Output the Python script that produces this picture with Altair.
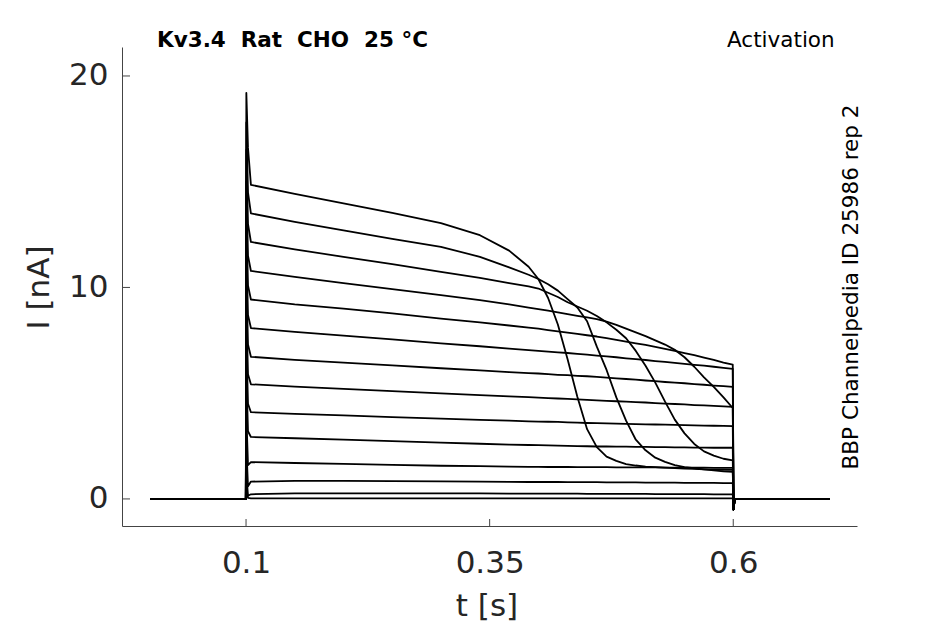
import altair as alt
import pandas as pd

# time grid [s]
t_s = [0.002, 0.0998, 0.1003, 0.102, 0.105, 0.15, 0.2, 0.25, 0.3, 0.34, 0.37, 0.39,
       0.40, 0.41, 0.42, 0.43, 0.44, 0.45, 0.46, 0.47, 0.48, 0.49, 0.50, 0.51, 0.52,
       0.53, 0.54, 0.55, 0.56, 0.57, 0.58, 0.59, 0.5995, 0.6003, 0.6015, 0.699]

# currents [nA] per sweep
sweep_01 = [0, 0, 19.2, 16.6, 14.85, 14.42, 13.98, 13.53, 13.04, 12.47, 11.74, 10.98, 10.4, 9.5,
            8.25, 6.6, 4.83, 3.3, 2.45, 2.0, 1.8, 1.65, 1.58, 1.53, 1.5, 1.48, 1.46, 1.44,
            1.42, 1.4, 1.39, 1.38, 1.37, -0.5, 0, 0]
sweep_02 = [0, 0, 17.8, 14.5, 13.5, 13.1, 12.7, 12.3, 11.92, 11.45, 10.95, 10.6, 10.4, 10.15,
            9.85, 9.45, 9.05, 8.4, 7.2, 6.1, 4.8, 3.7, 2.8, 2.3, 1.95, 1.75, 1.6, 1.5, 1.45,
            1.4, 1.35, 1.3, 1.28, -0.5, 0, 0]
sweep_03 = [0, 0, 16.5, 13.0, 12.15, 11.8, 11.45, 11.1, 10.74, 10.45, 10.2, 10.05, 9.95, 9.75,
            9.55, 9.3, 9.1, 8.9, 8.65, 8.35, 8.0, 7.6, 7.0, 6.3, 5.5, 4.6, 3.75, 3.1, 2.6,
            2.25, 2.05, 1.9, 1.82, -0.5, 0, 0]
sweep_04 = [0, 0, 15.0, 11.5, 10.78, 10.5, 10.2, 9.92, 9.64, 9.4, 9.2, 9.05, 8.98, 8.9, 8.82,
            8.74, 8.66, 8.58, 8.5, 8.38, 8.23, 8.05, 7.88, 7.7, 7.5, 7.3, 7.05, 6.7, 6.25,
            5.75, 5.3, 4.8, 4.3, -0.5, 0, 0]
sweep_05 = [0, 0, 13.5, 10.1, 9.43, 9.2, 9.0, 8.77, 8.53, 8.35, 8.2, 8.1, 8.05, 7.98, 7.92,
            7.86, 7.8, 7.74, 7.68, 7.6, 7.52, 7.44, 7.36, 7.28, 7.19, 7.1, 7.0, 6.9, 6.8,
            6.68, 6.57, 6.45, 6.35, -0.5, 0, 0]
sweep_06 = [0, 0, 12.0, 8.7, 8.08, 7.9, 7.72, 7.54, 7.36, 7.22, 7.11, 7.04, 7.0, 6.97, 6.93,
            6.9, 6.86, 6.82, 6.78, 6.74, 6.7, 6.65, 6.61, 6.57, 6.52, 6.48, 6.43, 6.39, 6.34,
            6.3, 6.25, 6.2, 6.15, -0.5, 0, 0]
sweep_07 = [0, 0, 10.5, 7.3, 6.72, 6.58, 6.45, 6.32, 6.18, 6.08, 6.0, 5.95, 5.93, 5.9, 5.87,
            5.85, 5.82, 5.8, 5.77, 5.74, 5.7, 5.67, 5.64, 5.6, 5.57, 5.53, 5.5, 5.47, 5.43,
            5.4, 5.36, 5.33, 5.3, -0.5, 0, 0]
sweep_08 = [0, 0, 9.0, 5.9, 5.42, 5.31, 5.2, 5.1, 4.99, 4.91, 4.85, 4.81, 4.79, 4.77, 4.75,
            4.73, 4.71, 4.68, 4.66, 4.64, 4.62, 4.6, 4.58, 4.56, 4.53, 4.51, 4.49, 4.47, 4.44,
            4.42, 4.4, 4.38, 4.35, -0.5, 0, 0]
sweep_09 = [0, 0, 7.5, 4.5, 4.1, 4.02, 3.95, 3.87, 3.8, 3.74, 3.7, 3.67, 3.66, 3.65, 3.64,
            3.62, 3.61, 3.59, 3.58, 3.57, 3.56, 3.55, 3.54, 3.53, 3.52, 3.51, 3.5, 3.49, 3.48,
            3.47, 3.46, 3.45, 3.44, -0.5, 0, 0]
sweep_10 = [0, 0, 6.0, 3.2, 2.93, 2.87, 2.8, 2.73, 2.66, 2.61, 2.57, 2.55, 2.54, 2.53, 2.52,
            2.51, 2.5, 2.49, 2.48, 2.48, 2.47, 2.47, 2.46, 2.46, 2.45, 2.45, 2.44, 2.44, 2.43,
            2.43, 2.42, 2.42, 2.42, -0.5, 0, 0]
sweep_11 = [0, 0, 4.0, 1.6, 1.74, 1.7, 1.66, 1.61, 1.57, 1.55, 1.53, 1.52, 1.52, 1.51, 1.51,
            1.51, 1.5, 1.5, 1.5, 1.5, 1.49, 1.49, 1.49, 1.49, 1.49, 1.48, 1.48, 1.48, 1.48,
            1.48, 1.47, 1.47, 1.47, -0.5, 0, 0]
sweep_12 = [0, 0, 2.5, 0.6, 0.82, 0.85, 0.85, 0.84, 0.83, 0.82, 0.81, 0.8, 0.8, 0.8, 0.8,
            0.79, 0.79, 0.79, 0.79, 0.78, 0.78, 0.78, 0.78, 0.77, 0.77, 0.77, 0.77, 0.76, 0.76,
            0.76, 0.76, 0.75, 0.75, -0.5, 0, 0]
sweep_13 = [0, 0, 1.2, 0.15, 0.22, 0.26, 0.26, 0.26, 0.26, 0.26, 0.25, 0.25, 0.25, 0.25, 0.25,
            0.25, 0.25, 0.24, 0.24, 0.24, 0.24, 0.24, 0.24, 0.24, 0.23, 0.23, 0.23, 0.23, 0.23,
            0.23, 0.22, 0.22, 0.22, -0.5, 0, 0]
sweep_14 = [0, 0, 0.5, 0.05, 0.03, 0.03, 0.03, 0.03, 0.03, 0.03, 0.03, 0.03, 0.03, 0.03, 0.03,
            0.03, 0.03, 0.03, 0.03, 0.03, 0.03, 0.03, 0.03, 0.03, 0.03, 0.03, 0.03, 0.03, 0.03,
            0.03, 0.03, 0.03, 0.03, -0.3, 0, 0]

x_ticks = [0.1, 0.35, 0.6]
y_ticks = [0, 10, 20]
title_left = "Kv3.4 \u00a0Rat \u00a0CHO \u00a025 °C"
title_right = "Activation"
side_label = "BBP Channelpedia ID 25986 rep 2"

sweeps = [sweep_01, sweep_02, sweep_03, sweep_04, sweep_05, sweep_06, sweep_07,
          sweep_08, sweep_09, sweep_10, sweep_11, sweep_12, sweep_13, sweep_14]
rows = []
for k, s in enumerate(sweeps):
    for t, i in zip(t_s, s):
        rows.append({"sweep": k, "t": t, "I": i})
df = pd.DataFrame(rows)

FONT = "DejaVu Sans"
W, H = 735, 479
xs = alt.Scale(domain=[-0.0273, 0.727], nice=False, zero=False)
ys = alt.Scale(domain=[-1.28, 21.37], nice=False, zero=False)

x_axis = alt.Axis(values=x_ticks, format=".2~f", ticks=False, tickSize=0, grid=False,
                  domainColor="#444444", domainWidth=1, labelFont=FONT, labelFontSize=31,
                  labelColor="#262626", labelBaseline="alphabetic", labelPadding=46,
                  labelFlush=False, labelOverlap=False,
                  titleFont=FONT, titleFontSize=31, titleFontWeight="normal",
                  titleColor="#262626", titleX=364.5, titleY=89,
                  titleBaseline="alphabetic", titleAlign="center")
y_axis = alt.Axis(values=y_ticks, format="d", ticks=False, tickSize=0, grid=False,
                  domainColor="#444444", domainWidth=1, labelFont=FONT, labelFontSize=31,
                  labelColor="#262626", labelAlign="right", labelBaseline="middle",
                  labelPadding=14, labelFlush=False, labelOverlap=False,
                  titleFont=FONT, titleFontSize=31, titleFontWeight="normal",
                  titleColor="#262626", titleX=-73.4, titleY=240, titleAngle=270,
                  titleBaseline="alphabetic", titleAlign="center")

lines = alt.Chart(df).mark_line(color="black", strokeWidth=1.8, strokeJoin="round").encode(
    x=alt.X("t:Q", scale=xs, title="t [s]", axis=x_axis),
    y=alt.Y("I:Q", scale=ys, title="I [nA]", axis=y_axis),
    detail="sweep:N",
)

xt = alt.Chart(pd.DataFrame({"t": x_ticks})).mark_rule(color="#444444", strokeWidth=1).encode(
    x=alt.X("t:Q", scale=xs, title="t [s]", axis=x_axis), y=alt.value(H), y2=alt.value(H - 7))
yt = alt.Chart(pd.DataFrame({"I": y_ticks})).mark_rule(color="#444444", strokeWidth=1).encode(
    y=alt.Y("I:Q", scale=ys, title="I [nA]", axis=y_axis), x=alt.value(0), x2=alt.value(8))

txt = pd.DataFrame({"a": [title_left], "b": [title_right], "c": [side_label]})
t1 = alt.Chart(txt).mark_text(font=FONT, fontSize=21.5, fontWeight="bold", color="black",
                              align="left", baseline="alphabetic").encode(
    text="a:N", x=alt.value(35), y=alt.value(0))
t2 = alt.Chart(txt).mark_text(font=FONT, fontSize=21.5, color="black",
                              align="left", baseline="alphabetic").encode(
    text="b:N", x=alt.value(605), y=alt.value(0))
t3 = alt.Chart(txt).mark_text(font=FONT, fontSize=21.5, color="black", angle=270,
                              align="center", baseline="alphabetic").encode(
    text="c:N", x=alt.value(736), y=alt.value(240))

chart = alt.layer(lines, xt, yt, t1, t2, t3).properties(
    width=W, height=H, autosize="none", background="white",
    padding={"left": 114, "top": 39, "right": 80, "bottom": 100},
).configure_view(stroke=None)

chart.save("out.html", embed_options={"renderer": "svg", "actions": False})
